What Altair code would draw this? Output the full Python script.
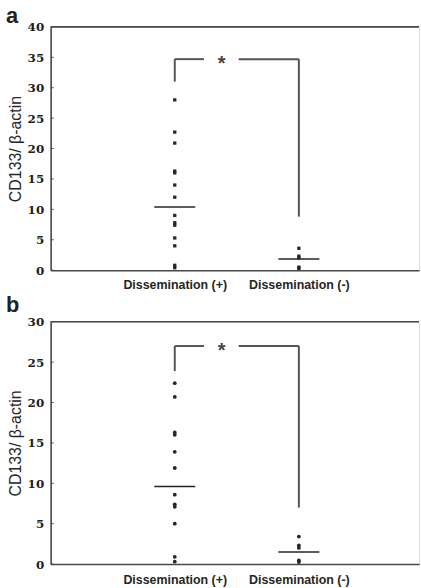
import altair as alt
import pandas as pd

# ---- data ----
groups = ["Dissemination (+)", "Dissemination (-)"]

a_pos = [28.0, 22.7, 20.9, 16.3, 16.0, 14.0, 12.0, 9.0, 7.8, 7.4, 5.3, 4.0, 0.8, 0.4]
a_neg = [3.6, 2.3, 2.0, 0.5, 0.3]
a_means = [10.4, 1.85]
a_ticks = [0, 5, 10, 15, 20, 25, 30, 35, 40]

b_pos = [22.4, 20.7, 16.3, 16.0, 13.9, 11.9, 8.6, 7.4, 7.1, 5.0, 0.9, 0.3]
b_neg = [3.4, 2.3, 2.0, 0.45, 0.25]
b_means = [9.6, 1.5]
b_ticks = [0, 5, 10, 15, 20, 25, 30]

# bracket annotation (value units): level, left foot, right foot
a_bracket = {"level": 34.7, "left_foot": 31.0, "right_foot": 8.8}
b_bracket = {"level": 27.0, "left_foot": 23.9, "right_foot": 7.0}

X_DOMAIN = [0, 2.968]
HALF = 0.165
GAP_L, GAP_R, STAR_X = 1.235, 1.515, 1.378

INK = "#262626"
AX = "#4a4a4a"


def panel(letter, pos, neg, means, ticks, br, ymax, h, pointshape, lab_pad):
    pts = pd.DataFrame(
        {"g": [1] * len(pos) + [2] * len(neg), "v": pos + neg}
    )
    mdf = pd.DataFrame({"g": [1, 2], "v": means})
    tdf = pd.DataFrame({"t": ticks})
    seg = pd.DataFrame(
        {
            "x": [1, 1, GAP_R, 2],
            "x2": [1, GAP_L, 2, 2],
            "y": [br["left_foot"], br["level"], br["level"], br["right_foot"]],
            "y2": [br["level"], br["level"], br["level"], br["level"]],
        }
    )

    xscale = alt.Scale(domain=X_DOMAIN, nice=False, zero=False)
    yscale = alt.Scale(domain=[0, ymax], nice=False)
    xaxis = alt.Axis(
        values=[1, 2],
        labelExpr="datum.value == 1 ? '%s' : '%s'" % (groups[0], groups[1]),
        title=None,
        grid=False,
        ticks=False,
        tickSize=0,
        domainColor=AX,
        domainWidth=1.6,
        labelFont="Liberation Sans",
        labelFontWeight="bold",
        labelFontSize=12.5,
        labelColor=INK,
        labelPadding=lab_pad,
        labelFlush=False,
    )
    yaxis = alt.Axis(
        values=ticks,
        title="CD133/ \u03b2-actin",
        grid=False,
        ticks=False,
        tickSize=0,
        domainColor=AX,
        domainWidth=1.6,
        labelFont="DejaVu Serif",
        labelFontWeight="bold",
        labelFontSize=12,
        labelColor="#1e1e1e",
        labelPadding=7,
        labelFlush=False,
        titleFont="Liberation Sans",
        titleFontSize=16,
        titleFontWeight="normal",
        titleColor=INK,
        titleX=-35,
        titleY=h / 2,
        titleBaseline="middle",
    )

    if pointshape == "square":
        pmark = alt.Chart(pts).mark_square(size=11, color=INK, opacity=1)
    else:
        pmark = alt.Chart(pts).mark_circle(size=15, color=INK, opacity=1)
    points = pmark.encode(
        x=alt.X("g:Q", scale=xscale, axis=xaxis),
        y=alt.Y("v:Q", scale=yscale, axis=yaxis),
    )

    mean_lines = (
        alt.Chart(mdf)
        .transform_calculate(lo="datum.g - %f" % HALF, hi="datum.g + %f" % HALF)
        .mark_rule(color=INK, strokeWidth=1.6)
        .encode(
            x=alt.X("lo:Q", scale=xscale, axis=xaxis),
            x2="hi:Q",
            y=alt.Y("v:Q", scale=yscale, axis=yaxis),
        )
    )

    bracket = (
        alt.Chart(seg)
        .mark_rule(color="#555555", strokeWidth=2)
        .encode(
            x=alt.X("x:Q", scale=xscale, axis=xaxis),
            x2="x2:Q",
            y=alt.Y("y:Q", scale=yscale, axis=yaxis),
            y2="y2:Q",
        )
    )

    star = (
        alt.Chart(pd.DataFrame({"x": [STAR_X], "y": [br["level"]], "s": ["*"]}))
        .mark_text(
            font="Liberation Sans",
            fontSize=20,
            fontWeight="bold",
            color="#444444",
            baseline="middle",
            align="center",
            dy=5,
        )
        .encode(
            x=alt.X("x:Q", scale=xscale, axis=xaxis),
            y=alt.Y("y:Q", scale=yscale, axis=yaxis),
            text="s:N",
        )
    )

    top_line = (
        alt.Chart(pd.DataFrame({"top": [ymax]}))
        .mark_rule(color=AX, strokeWidth=1.6)
        .encode(y=alt.Y("top:Q", scale=yscale, axis=yaxis))
    )

    inner_ticks = (
        alt.Chart(tdf)
        .mark_rule(color=AX, strokeWidth=1)
        .encode(
            y=alt.Y("t:Q", scale=yscale, axis=yaxis),
            x=alt.value(0),
            x2=alt.value(3),
        )
    )

    lab = (
        alt.Chart(pd.DataFrame({"l": [letter]}))
        .mark_text(
            font="Liberation Sans",
            fontSize=22,
            fontWeight="bold",
            color="#222222",
            align="left",
            baseline="alphabetic",
        )
        .encode(
            text="l:N",
            x=alt.value(-45),
            y=alt.value(-4 if letter == "a" else -10),
        )
    )

    return alt.layer(
        top_line, inner_ticks, bracket, mean_lines, points, star, lab
    ).properties(width=371, height=h)


pa = panel("a", a_pos, a_neg, a_means, a_ticks, a_bracket, 40, 245, "square", 8)
pb = panel("b", b_pos, b_neg, b_means, b_ticks, b_bracket, 30, 244, "circle", 10)

chart = (
    alt.vconcat(pa, pb, spacing=52, bounds="flush")
    .properties(padding={"left": 5, "top": 2, "right": 0, "bottom": 0})
    .configure_view(stroke=None)
    .configure(background="white")
)

chart.save("out.html", embed_options={"renderer": "svg", "actions": False})
